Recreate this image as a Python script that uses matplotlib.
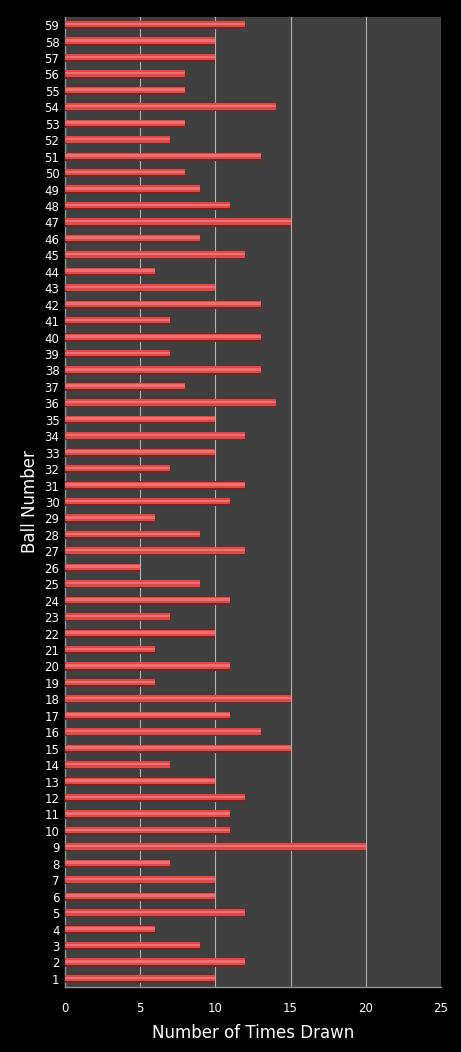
import numpy as np
import matplotlib
matplotlib.use("Agg")
import matplotlib.pyplot as plt

# ball numbers and how often each one was drawn
balls = list(range(1, 60))
times_drawn = [10, 12, 9, 6, 12, 10, 10, 7, 20, 11,
               11, 12, 10, 7, 15, 13, 11, 15, 6, 11,
               6, 10, 7, 11, 9, 5, 12, 9, 6, 11,
               12, 7, 10, 12, 10, 14, 8, 13, 7, 13,
               7, 13, 10, 6, 12, 9, 15, 11, 9, 8,
               13, 7, 8, 14, 8, 8, 10, 10, 12]
x_ticks = [0, 5, 10, 15, 20, 25]

plt.rcParams['font.family'] = ['DejaVu Sans']

fig = plt.figure(figsize=(4.61, 10.52), dpi=100, facecolor='black')
ax = fig.add_axes([65/461, 1 - 987/1052, 376/461, 970/1052])
ax.set_facecolor('#404040')

h = 0.5
yb = np.array(balls)
# fake the 3d look: dark base, red body, light stripe
ax.barh(yb, times_drawn, height=h, color='#7e2222', zorder=3)
ax.barh(yb + 0.05, times_drawn, height=h * 0.78, color='#dd4a4a', zorder=4)
ax.barh(yb + 0.07, times_drawn, height=h * 0.3, color='#f07070', zorder=5)

ax.set_xlim(0, 25)
ax.set_ylim(0.51, 59.49)
ax.set_xticks(x_ticks)
ax.set_yticks(balls)
ax.set_yticklabels([str(b) for b in balls])
ax.grid(axis='x', color='#b0b0b0', linewidth=0.8, zorder=1)
ax.tick_params(colors='white', labelsize=8.5, length=0, pad=4)
ax.tick_params(axis='x', pad=11)

for s in ['top', 'right']:
    ax.spines[s].set_visible(False)
for s in ['left', 'bottom']:
    ax.spines[s].set_color('#909090')
    ax.spines[s].set_linewidth(1)

ax.set_xlabel('Number of Times Drawn', color='white', fontsize=12, labelpad=6)
ax.set_ylabel('Ball Number', color='white', fontsize=12, labelpad=4)

fig.savefig('out.png', dpi=100, facecolor='black')
